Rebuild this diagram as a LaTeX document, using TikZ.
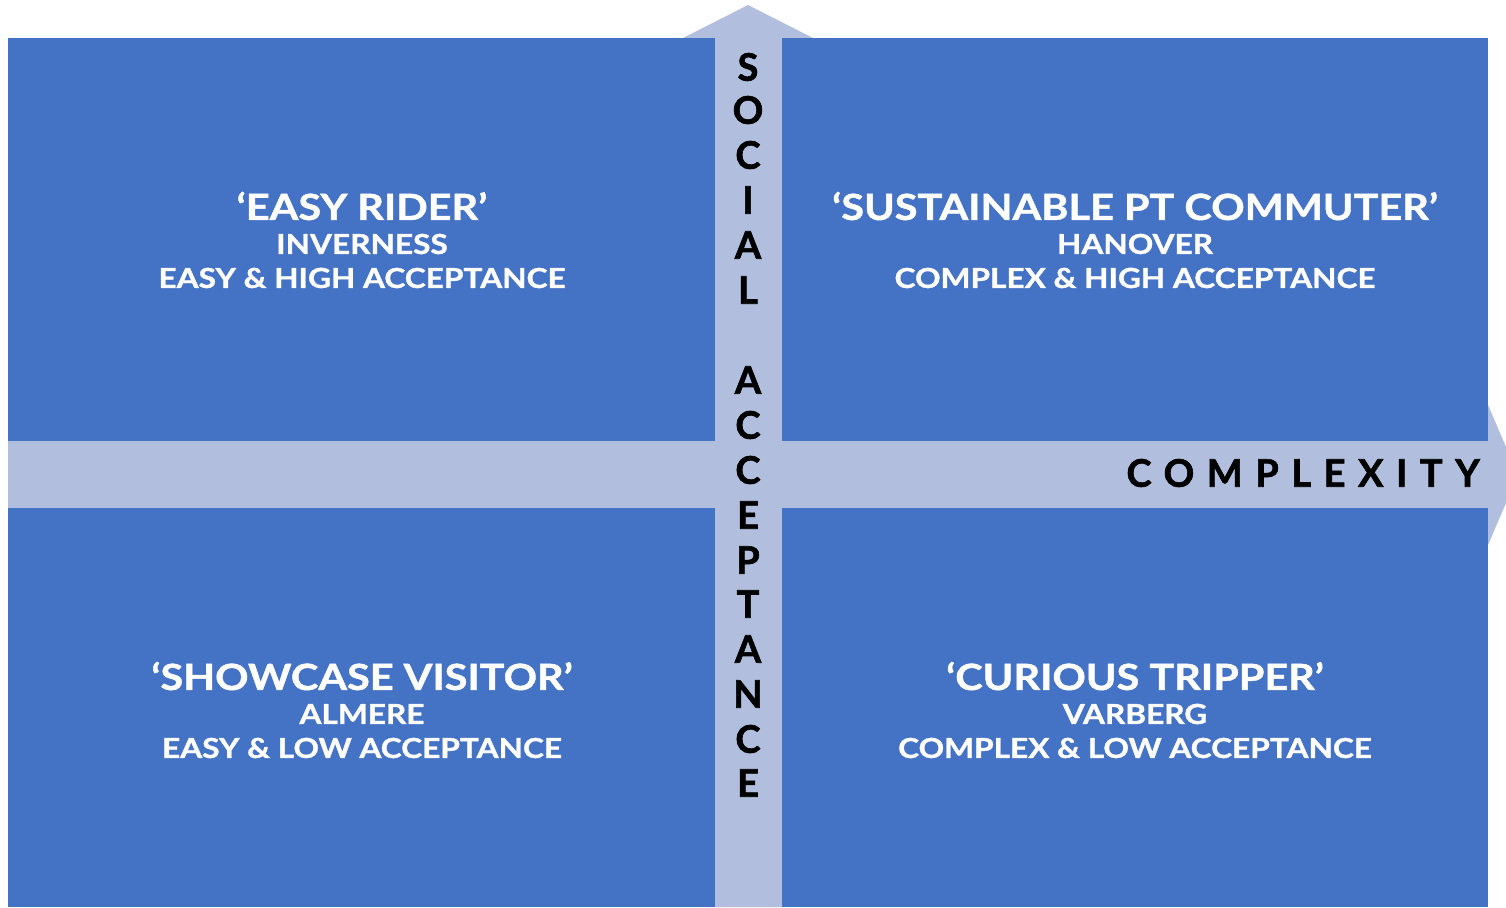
\documentclass[tikz,border=0pt]{standalone}
\usepackage{fontspec}
\setmainfont{Lato}
\newfontfamily\quadfont{Lato}[FakeStretch=1.15,FakeBold=1.2]
\newfontfamily\axisfont{Lato}[FakeBold=1.5]
\definecolor{quadblue}{HTML}{4472C4}
\definecolor{axisblue}{HTML}{B2BEDD}

\begin{document}
\begin{tikzpicture}[x=1pt,y=-1pt,
    quad/.style={fill=quadblue},
    quadtext/.style={text=white,align=center,font=\quadfont\bfseries\fontsize{27.5}{34}\selectfont,inner sep=0pt},
    axisletter/.style={font=\axisfont\bfseries\fontsize{38}{38}\selectfont,inner sep=0pt}]
	\useasboundingbox (0,0) rectangle (1506,907);
	\clip (0,0) rectangle (1506,907);
	% axes
	\fill[axisblue] (715,907) -- (715,38) -- (683,38) -- (748,5) -- (813,38) -- (782,38) -- (782,907) -- cycle;
	\fill[axisblue] (8,441) -- (1488,441) -- (1488,405) -- (1518,475) -- (1488,545) -- (1488,508) -- (8,508) -- cycle;
	% quadrants
	\fill[quad] (8,38) rectangle (715,441);
	\fill[quad] (782,38) rectangle (1488,441);
	\fill[quad] (8,508) rectangle (715,907);
	\fill[quad] (782,508) rectangle (1488,907);
	\node[quadtext] (easy) at (362,240) {{\fontsize{36}{42}\selectfont ‘EASY RIDER’}\\INVERNESS\\EASY \& HIGH ACCEPTANCE};
	\node[quadtext] (sust) at (1135,240) {{\fontsize{36}{42}\selectfont ‘SUSTAINABLE PT COMMUTER’}\\HANOVER\\COMPLEX \& HIGH ACCEPTANCE};
	\node[quadtext] (show) at (362,710) {{\fontsize{36}{42}\selectfont ‘SHOWCASE VISITOR’}\\ALMERE\\EASY \& LOW ACCEPTANCE};
	\node[quadtext] (curi) at (1135,710) {{\fontsize{36}{42}\selectfont ‘CURIOUS TRIPPER’}\\VARBERG\\COMPLEX \& LOW ACCEPTANCE};
	% social acceptance
	\foreach \l/\y in {S/67,O/110,C/155,I/200,A/245,L/290,A/380,C/425,C/470,E/515,P/560,T/604,A/649,N/694,C/739,E/783}
		\node[axisletter] (sa\y) at (748,\y) {\l};
	\node[axisletter,anchor=east,font=\axisfont\bfseries\fontsize{38}{38}\selectfont\addfontfeature{LetterSpace=33}] (cplx) at (1480,473) {COMPLEXITY};
\end{tikzpicture}
\end{document}
